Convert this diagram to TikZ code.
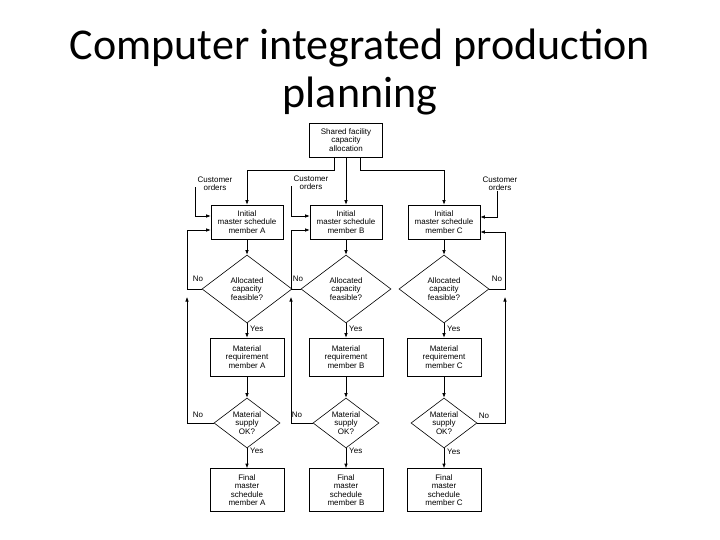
\documentclass[tikz,border=0pt]{standalone}
\usepackage{fontspec}
\setmainfont{Liberation Sans}
\newfontfamily\titlefont{Carlito}
\usetikzlibrary{shapes.geometric,arrows.meta}

\tikzset{
  >={Latex[length=4.5pt,width=3.5pt]},
  melko/.style={font=\fontsize{8}{8.4}\selectfont},
  blok/.style={draw, melko, line width=0.6pt, align=center, inner sep=1pt,
    minimum width=72pt, minimum height=34pt},
  romb/.style={draw, diamond, melko, line width=0.6pt, align=center, inner sep=-1pt},
  metka/.style={melko, inner sep=0pt, align=center},
  svyaz/.style={line width=0.6pt}
}

\begin{document}
\begin{tikzpicture}[x=1pt, y=-1pt]
			% Рамка слайда
			\useasboundingbox (0,0) rectangle (720,540);
			\fill[white] (0,0) rectangle (720,540);
			
			% Заголовок
			\node[anchor=base, align=center, font=\titlefont\fontsize{44}{48}\selectfont] (title) at (360,108) {Computer integrated production\\planning};
			
			% Верхний блок
			\node[blok, minimum width=73pt] (shared) at (346,140) {Shared facility\\capacity\\allocation};
			
			% Начальные графики
			\node[blok] (iniA) at (247,222) {Initial\\master schedule\\member A};
			\node[blok] (iniB) at (346,222) {Initial\\master schedule\\member B};
			\node[blok] (iniC) at (444,222) {Initial\\master schedule\\member C};
			
			% Проверка мощностей
			\node[romb, minimum width=90pt, minimum height=68pt] (capA) at (247,289) {Allocated\\capacity\\feasible?};
			\node[romb, minimum width=90pt, minimum height=68pt] (capB) at (346,289) {Allocated\\capacity\\feasible?};
			\node[romb, minimum width=90pt, minimum height=68pt] (capC) at (444,289) {Allocated\\capacity\\feasible?};
			
			% Потребность в материалах
			\node[blok, minimum width=74pt, minimum height=38pt] (matA) at (247,357) {Material\\requirement\\member A};
			\node[blok, minimum width=74pt, minimum height=38pt] (matB) at (346,357) {Material\\requirement\\member B};
			\node[blok, minimum width=74pt, minimum height=38pt] (matC) at (444,357) {Material\\requirement\\member C};
			
			% Проверка снабжения
			\node[romb, minimum width=66pt, minimum height=50pt] (supA) at (247,423) {Material\\supply\\OK?};
			\node[romb, minimum width=66pt, minimum height=50pt] (supB) at (346,423) {Material\\supply\\OK?};
			\node[romb, minimum width=66pt, minimum height=50pt] (supC) at (444,423) {Material\\supply\\OK?};
			
			% Итоговые графики
			\node[blok, minimum width=74pt, minimum height=43pt] (finA) at (247,490) {Final\\master\\schedule\\member A};
			\node[blok, minimum width=74pt, minimum height=43pt] (finB) at (346,490) {Final\\master\\schedule\\member B};
			\node[blok, minimum width=74pt, minimum height=43pt] (finC) at (444,490) {Final\\master\\schedule\\member C};
			
			% Заказы клиентов
			\node[metka] (custA) at (215,184) {Customer\\orders};
			\node[metka] (custB) at (311,183) {Customer\\orders};
			\node[metka] (custC) at (500,184) {Customer\\orders};
			
			% Распределение мощностей
			\draw[svyaz,->] ([xshift=-12pt]shared.south) -- ++(0,13) -| (iniA.north);
			\draw[svyaz,->] (shared) -- (iniB);
			\draw[svyaz,->] ([xshift=14pt]shared.south) -- ++(0,13) -| (iniC.north);
			
			% Заказы в графики
			\draw[svyaz,->] (custA.south west) ++(-2,-4) |- ([yshift=6pt]iniA.west);
			\draw[svyaz,->] (custB.south west) ++(-2,-4) |- ([yshift=6pt]iniB.west);
			\draw[svyaz,->] ([xshift=-3pt]custC.south) |- ([yshift=5pt]iniC.east);
			
			% Основной поток сверху вниз
			\foreach \c in {A,B,C} {
				\draw[svyaz,->] (ini\c) -- (cap\c);
				\draw[svyaz,->] (cap\c) -- (mat\c);
				\draw[svyaz,->] (mat\c) -- (sup\c);
				\draw[svyaz,->] (sup\c) -- (fin\c);
			}
			
			% Ответы "Yes"
			\node[metka, anchor=west] (yesA) at (250,329) {Yes};
			\node[metka, anchor=west] (yesB) at (349,329) {Yes};
			\node[metka, anchor=west] (yesC) at (447,329) {Yes};
			\node[metka, anchor=west] (yesA2) at (250,451) {Yes};
			\node[metka, anchor=west] (yesB2) at (349,451) {Yes};
			\node[metka, anchor=west] (yesC2) at (447,452) {Yes};
			
			% Возврат при "No" (мощности)
			\draw[svyaz,->] (capA.west) -- ++(-14,0) |- ([yshift=-8pt]iniA.west);
			\draw[svyaz,->] (capB.west) -- ++(-9,0) |- ([yshift=-8pt]iniB.west);
			\draw[svyaz,->] (capC.east) -- ++(16,0) |- ([yshift=-10pt]iniC.east);
			\node[metka] (noA) at (198,279) {No};
			\node[metka] (noB) at (298,279) {No};
			\node[metka] (noC) at (497,279) {No};
			
			% Возврат при "No" (снабжение)
			\coordinate (upA) at (187,297);
			\coordinate (upB) at (291,297);
			\coordinate (upC) at (505,297);
			\draw[svyaz,->] (supA.west) -| (upA);
			\draw[svyaz,->] (supB.west) -| (upB);
			\draw[svyaz,->] (supC.east) -| (upC);
			\node[metka] (noA2) at (198,415) {No};
			\node[metka] (noB2) at (297,415) {No};
			\node[metka] (noC2) at (484,416) {No};
		\end{tikzpicture}
\end{document}
